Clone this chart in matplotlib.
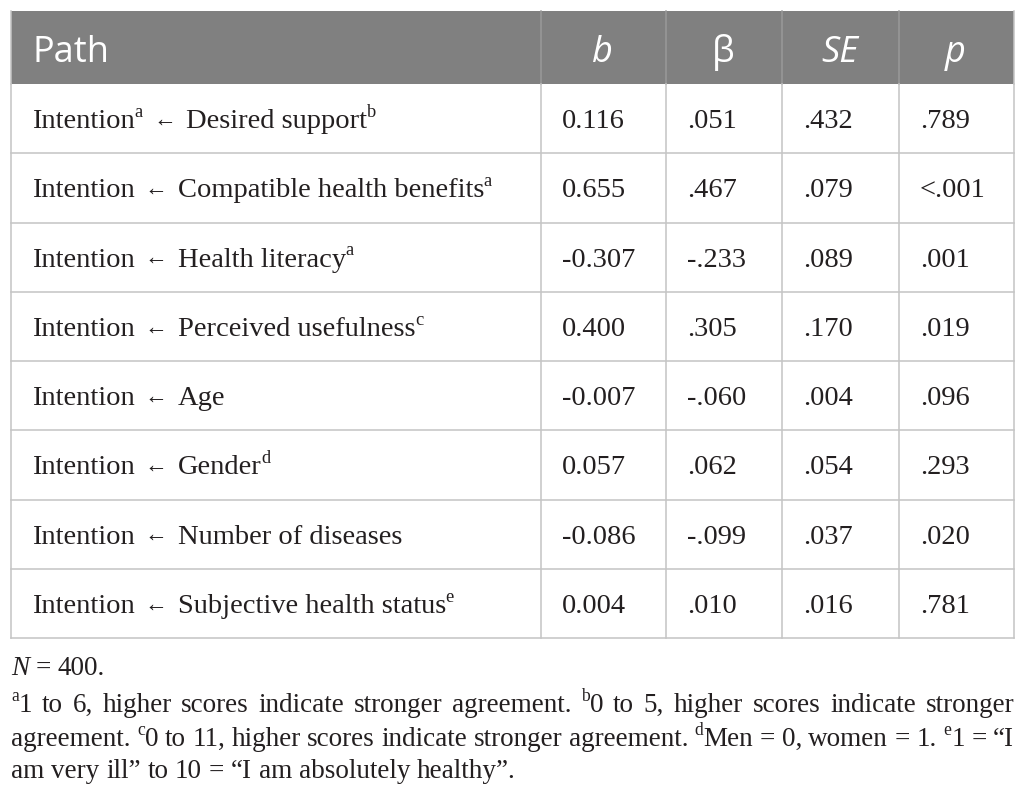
import matplotlib
matplotlib.use("Agg")
import matplotlib.pyplot as plt
from matplotlib.patches import Rectangle

# table content
headers = ["Path", "b", "\u03b2", "SE", "p"]
header_italic = [False, True, False, True, True]
ARROW = [(" ", 0), ("\u2190", 3), (" ", 0)]
paths = [
    [("Intention", 0), ("a", 1)] + ARROW + [("Desired support", 0), ("b", 1)],
    [("Intention", 0)] + ARROW + [("Compatible health benefits", 0), ("a", 1)],
    [("Intention", 0)] + ARROW + [("Health literacy", 0), ("a", 1)],
    [("Intention", 0)] + ARROW + [("Perceived usefulness", 0), ("c", 1)],
    [("Intention", 0)] + ARROW + [("Age", 0)],
    [("Intention", 0)] + ARROW + [("Gender", 0), ("d", 1)],
    [("Intention", 0)] + ARROW + [("Number of diseases", 0)],
    [("Intention", 0)] + ARROW + [("Subjective health status", 0), ("e", 1)],
]
b_vals = ["0.116", "0.655", "-0.307", "0.400", "-0.007", "0.057", "-0.086", "0.004"]
beta_vals = [".051", ".467", "-.233", ".305", "-.060", ".062", "-.099", ".010"]
se_vals = [".432", ".079", ".089", ".170", ".004", ".054", ".037", ".016"]
p_vals = [".789", "<.001", ".001", ".019", ".096", ".293", ".020", ".781"]

# footnotes: style 0 normal, 1 superscript, 2 italic
notes = [
    [("N", 2), (" = 400.", 0)],
    [("a", 1), ("1 to 6, higher scores indicate stronger agreement. ", 0), ("b", 1),
     ("0 to 5, higher scores indicate stronger", 0)],
    [("agreement. ", 0), ("c", 1), ("0 to 11, higher scores indicate stronger agreement. ", 0),
     ("d", 1), ("Men = 0, women = 1. ", 0), ("e", 1), ("1 = \u201cI", 0)],
    [("am very ill\u201d to 10 = \u201cI am absolutely healthy\u201d.", 0)],
]
note_justify = [False, True, True, False]

W, H = 1026, 797
fig = plt.figure(figsize=(W / 100, H / 100), dpi=100)
ax = fig.add_axes([0, 0, 1, 1])
ax.set_xlim(0, W)
ax.set_ylim(H, 0)
ax.axis("off")
renderer = fig.canvas.get_renderer()

left, right = 11, 1014
top, head_bot = 11, 84
row_h = 69.25
col_x = [left, 541, 666, 782, 899, right]
bottom = head_bot + row_h * len(paths)

serif = "Liberation Serif"
sans = "Open Sans"
body_size = 20.5
ink = "#231f20"
grid = "#c4c4c4"

# header
ax.add_patch(Rectangle((left, top), right - left, head_bot - top,
                       facecolor="#808080", edgecolor="none"))
for cx in col_x[1:-1]:
    ax.plot([cx, cx], [top, head_bot], color="#9a9a9a", lw=1.1)
head_base = 62
for j, h in enumerate(headers):
    if j == 0:
        ax.text(32, head_base, h, fontsize=26, family=sans, color="white",
                va="baseline", ha="left")
    else:
        ax.text((col_x[j] + col_x[j + 1]) / 2 - 1, head_base, h, fontsize=26,
                family=sans, color="white", va="baseline", ha="center",
                style="italic" if header_italic[j] else "normal")

# grid lines
for i in range(1, len(paths) + 1):
    y = head_bot + row_h * i
    ax.plot([left, right], [y, y], color=grid, lw=1.1)
for cx in col_x:
    ax.plot([cx, cx], [head_bot, bottom], color=grid, lw=1.1)
ax.plot([left, left], [top, head_bot], color=grid, lw=1.1)
ax.plot([right, right], [top, head_bot], color=grid, lw=1.1)

scale = {0: 1.0, 1: 0.65, 2: 1.0, 3: 0.8}


def space_width(size, family):
    a = ax.text(0, 0, "a a", fontsize=size, family=family)
    b = ax.text(0, 0, "aa", fontsize=size, family=family)
    w = a.get_window_extent(renderer).width - b.get_window_extent(renderer).width
    a.remove()
    b.remove()
    return w


def make_runs(runs, size, family, color):
    # returns list of (Text, width, style)
    out = []
    for txt, st in runs:
        t = ax.text(0, 0, txt, fontsize=size * scale[st], family=family, color=color,
                    style="italic" if st == 2 else "normal", va="baseline",
                    ha="center" if st == 3 else "left")
        if txt == " ":
            w = space_width(size, family)
        elif st == 3:
            full = ax.text(0, 0, txt, fontsize=size, family=family)
            w = full.get_window_extent(renderer).width
            full.remove()
        else:
            w = t.get_window_extent(renderer).width
        out.append((t, w, st))
    return out


def place(items, x, y, size):
    for t, w, st in items:
        if st == 1:
            t.set_position((x, y - size * 0.55))
        elif st == 3:
            t.set_position((x + w / 2, y - size * 0.12))
        else:
            t.set_position((x, y))
        x += w
    return x


# body rows
for i in range(len(paths)):
    cy = head_bot + row_h * (i + 0.5)
    base = cy + 9.5
    place(make_runs(paths[i], body_size, serif, ink), 32, base, body_size)
    for j, vals in enumerate([b_vals, beta_vals, se_vals, p_vals]):
        ax.text(col_x[j + 1] + 21, base, vals[i], fontsize=body_size,
                family=serif, color=ink, va="baseline", ha="left")

# footnotes
note_size = 19.5
sp = space_width(note_size, serif)
note_y = [675, 712, 746, 778]
for k, runs in enumerate(notes):
    words = [[]]
    for txt, st in runs:
        parts = txt.split(" ")
        for n, part in enumerate(parts):
            if n > 0:
                words.append([])
            if part:
                words[-1].append((part, st))
    words = [w for w in words if w]
    items = [make_runs(w, note_size, serif, ink) for w in words]
    widths = [sum(w for _, w, _ in it) for it in items]
    if note_justify[k]:
        gap = (right - left - sum(widths)) / (len(items) - 1)
    else:
        gap = sp
    x = left
    for it, w in zip(items, widths):
        place(it, x, note_y[k], note_size)
        x += w + gap

fig.savefig("out.png", dpi=100)
